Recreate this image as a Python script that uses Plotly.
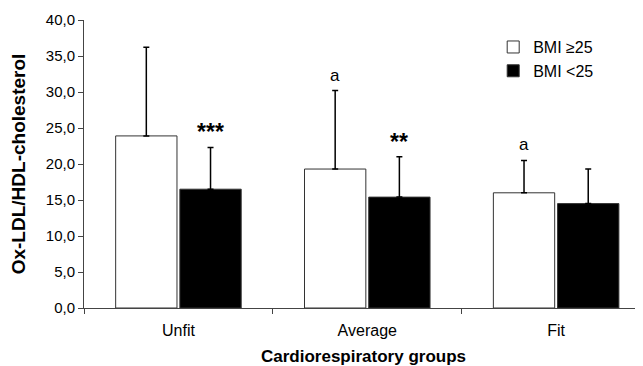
import plotly.graph_objects as go

categories = ["Unfit", "Average", "Fit"]
bmi_high_mean = [23.9, 19.3, 16.0]
bmi_high_sd = [12.3, 10.9, 4.5]
bmi_low_mean = [16.5, 15.4, 14.5]
bmi_low_sd = [5.8, 5.6, 4.8]
high_labels = ["", "a", "a"]
low_labels = ["***", "**", ""]
y_ticks = [0, 5, 10, 15, 20, 25, 30, 35, 40]

FONT = "Liberation Sans, Arial, sans-serif"
BARGAP = 0.32
GROUPGAP = 0.045
offset = (1 - BARGAP) / 4

fig = go.Figure()
fig.add_trace(go.Bar(
    name="BMI ≥25", x=categories, y=bmi_high_mean,
    marker=dict(color="white", line=dict(color="#333333", width=1)),
    error_y=dict(type="data", symmetric=False, array=bmi_high_sd,
                 arrayminus=[0] * len(bmi_high_sd), color="black",
                 thickness=1.5, width=3),
))
fig.add_trace(go.Bar(
    name="BMI <25", x=categories, y=bmi_low_mean,
    marker=dict(color="black", line=dict(color="#333333", width=1)),
    error_y=dict(type="data", symmetric=False, array=bmi_low_sd,
                 arrayminus=[0] * len(bmi_low_sd), color="black",
                 thickness=1.5, width=3),
))

annotations = []
for i, (lab, m, s) in enumerate(zip(high_labels, bmi_high_mean, bmi_high_sd)):
    if lab:
        annotations.append(dict(x=i - offset, y=m + s, xref="x", yref="y",
                                text=lab, showarrow=False, yanchor="bottom",
                                yshift=4, font=dict(family=FONT, size=17, color="black")))
for i, (lab, m, s) in enumerate(zip(low_labels, bmi_low_mean, bmi_low_sd)):
    if lab:
        annotations.append(dict(x=i + offset, y=m + s, xref="x", yref="y",
                                text="<b>" + lab + "</b>", showarrow=False, yanchor="bottom",
                                yshift=0, font=dict(family=FONT, size=23, color="black")))

# The page body adds an 8px margin, so the figure is sized to fill the rest of the window.
fig.update_layout(
    width=635, height=358,
    margin=dict(l=76, r=0, t=12, b=58),
    paper_bgcolor="white", plot_bgcolor="white",
    barmode="group", bargap=BARGAP, bargroupgap=GROUPGAP,
    separators=", ",
    font=dict(family=FONT, size=16, color="black"),
    showlegend=True,
    legend=dict(x=0.732, y=0.965, xanchor="left", yanchor="top",
                bgcolor="rgba(0,0,0,0)", font=dict(family=FONT, size=16),
                itemwidth=30, tracegroupgap=4),
    annotations=annotations,
    xaxis=dict(
        range=[-0.5, 2.46], showline=True, linecolor="#444444", linewidth=1,
        ticks="outside", tickson="boundaries", ticklen=5, tickcolor="#444444",
        showgrid=False, tickfont=dict(family=FONT, size=16), automargin=False,
        ticklabelstandoff=8,
        title=dict(text="<b>Cardiorespiratory groups</b>", standoff=12,
                   font=dict(family=FONT, size=17)),
    ),
    yaxis=dict(
        range=[0, 40], tickvals=y_ticks, tickformat=".1f",
        showline=True, linecolor="#444444", linewidth=1,
        ticks="outside", ticklen=5, tickcolor="#444444", automargin=False,
        showgrid=False, zeroline=False, tickfont=dict(family=FONT, size=15),
        title=dict(text="<b>Ox-LDL/HDL-cholesterol</b>", standoff=22,
                   font=dict(family=FONT, size=19)),
    ),
)

fig.write_html("out.html")
